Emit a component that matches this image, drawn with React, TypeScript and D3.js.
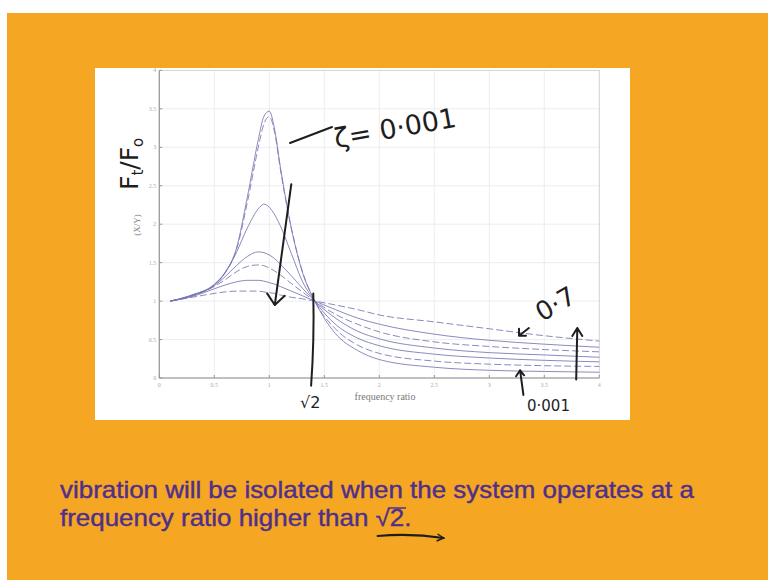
import React, { useLayoutEffect, useRef, useState } from "react";
import * as d3 from "d3";

// frequency ratio samples
const ratios = [0.1, 0.3, 0.5, 0.6, 0.7, 0.8, 0.9, 0.95, 1.0, 1.05, 1.1, 1.2, 1.3, 1.414, 1.6, 1.8, 2.0, 2.5, 3.0, 3.5, 4.0];
// transmissibility curves, highest damping first
const curve1 = [1.0, 1.05, 1.10, 1.12, 1.13, 1.13, 1.13, 1.12, 1.11, 1.10, 1.08, 1.05, 1.03, 1.0, 0.95, 0.89, 0.82, 0.73, 0.64, 0.55, 0.48];
const curve2 = [1.0, 1.06, 1.16, 1.21, 1.25, 1.27, 1.27, 1.26, 1.24, 1.22, 1.19, 1.13, 1.07, 1.0, 0.89, 0.78, 0.70, 0.57, 0.49, 0.44, 0.40];
const curve3 = [1.0, 1.07, 1.19, 1.28, 1.38, 1.45, 1.47, 1.46, 1.43, 1.39, 1.34, 1.23, 1.12, 1.0, 0.83, 0.70, 0.60, 0.47, 0.41, 0.37, 0.34];
const curve4 = [1.0, 1.07, 1.20, 1.32, 1.46, 1.58, 1.64, 1.63, 1.60, 1.55, 1.48, 1.33, 1.17, 1.0, 0.78, 0.61, 0.51, 0.39, 0.33, 0.30, 0.27];
const curve5 = [1.0, 1.08, 1.21, 1.37, 1.63, 1.95, 2.20, 2.26, 2.22, 2.12, 1.98, 1.62, 1.26, 1.0, 0.70, 0.52, 0.42, 0.31, 0.26, 0.23, 0.21];
const curve6 = [1.0, 1.08, 1.21, 1.37, 1.66, 2.28, 3.00, 3.30, 3.40, 3.18, 2.72, 1.95, 1.39, 1.0, 0.64, 0.43, 0.32, 0.22, 0.18, 0.16, 0.15];
const curve7 = [1.0, 1.08, 1.22, 1.38, 1.68, 2.35, 3.10, 3.40, 3.47, 3.22, 2.75, 1.95, 1.38, 1.0, 0.58, 0.36, 0.24, 0.14, 0.10, 0.085, 0.075];
const curves = [curve1, curve2, curve3, curve4, curve5, curve6, curve7];
const dashed = [true, false, true, false, false, true, false];

const xTicks = [0, 0.5, 1, 1.5, 2, 2.5, 3, 3.5, 4];
const yTicks = [0, 0.5, 1, 1.5, 2, 2.5, 3, 3.5, 4];
const xTickLabels = ["0", "0.5", "1", "1.5", "2", "2.5", "3", "3.5", "4"];
const yTickLabels = ["0", "0.5", "1", "1.5", "2", "2.5", "3", "3.5", "4"];

const line1Text = "vibration will be isolated when the system operates at a";
const line2Text = "frequency ratio higher than ";

export default function App() {
  const W = 768, H = 580;
  const x = d3.scaleLinear().domain([0, 4]).range([159.3, 599.3]);
  const y = d3.scaleLinear().domain([0, 4]).range([378, 70.4]);
  const line = d3
    .line<number>()
    .x((_, i) => x(ratios[i]))
    .y((d) => y(d))
    .curve(d3.curveMonotoneX);

  const t1 = useRef<SVGTextElement>(null);
  const t2 = useRef<SVGTextElement>(null);
  const [w1, setW1] = useState(634);
  const [w2, setW2] = useState(300);
  useLayoutEffect(() => {
    if (t1.current) setW1(t1.current.getComputedTextLength());
    if (t2.current) setW2(t2.current.getComputedTextLength());
  }, []);
  const k = 634 / w1;
  const sx = w2; // local (unscaled) coords inside group

  const hand = "#1e1e1e";
  const handFont = "'DejaVu Sans', sans-serif";
  const purple = "#4f2f8c";
  const sans = "'Liberation Sans', Arial, sans-serif";

  return (
    <svg width={W} height={H} style={{ position: "absolute", left: 0, top: 0 }}>
      <rect x={0} y={0} width={W} height={H} fill="#ffffff" />
      <rect x={7} y={13} width={W - 7} height={H - 13} fill="#F5A623" />
      <rect x={95} y={68} width={535} height={352} fill="#ffffff" />

      {/* grid */}
      {xTicks.map((t, i) => (
        <line key={"gx" + i} x1={x(t)} x2={x(t)} y1={y(0)} y2={y(4)} stroke="#e8e8e8" strokeWidth={0.8} />
      ))}
      {yTicks.map((t, i) => (
        <line key={"gy" + i} x1={x(0)} x2={x(4)} y1={y(t)} y2={y(t)} stroke="#e8e8e8" strokeWidth={0.8} />
      ))}
      {/* box */}
      <rect x={x(0)} y={y(4)} width={x(4) - x(0)} height={y(0) - y(4)} fill="none" stroke="#d0d0d0" strokeWidth={0.8} />
      <line x1={x(0)} x2={x(4)} y1={y(0)} y2={y(0)} stroke="#999" strokeWidth={1.2} />
      <line x1={x(0)} x2={x(0)} y1={y(0)} y2={y(4)} stroke="#999" strokeWidth={1.2} />
      {xTicks.map((t, i) => (
        <g key={"tx" + i}>
          <line x1={x(t)} x2={x(t)} y1={y(0)} y2={y(0) - 3} stroke="#999" />
          <text x={x(t)} y={y(0) + 9} fontSize={6} fill="#aaa" textAnchor="middle" fontFamily="'Liberation Serif', serif">
            {xTickLabels[i]}
          </text>
        </g>
      ))}
      {yTicks.map((t, i) => (
        <g key={"ty" + i}>
          <line x1={x(0)} x2={x(0) + 3} y1={y(t)} y2={y(t)} stroke="#999" />
          <text x={x(0) - 3} y={y(t) + 2} fontSize={6} fill="#aaa" textAnchor="end" fontFamily="'Liberation Serif', serif">
            {yTickLabels[i]}
          </text>
        </g>
      ))}

      {/* curves */}
      {curves.map((c, i) => (
        <path
          key={"c" + i}
          d={line(c) || ""}
          fill="none"
          stroke="#7676b4"
          strokeOpacity={0.85}
          strokeWidth={1}
          strokeDasharray={dashed[i] ? "7,3" : undefined}
        />
      ))}

      {/* axis labels */}
      <text x={385} y={400} fontSize={10} fill="#777" fontFamily="'Liberation Serif', serif" textAnchor="middle">
        frequency ratio
      </text>
      <text
        transform={`translate(140,225) rotate(-90)`}
        fontSize={9}
        fill="#888"
        fontFamily="'Liberation Serif', serif"
        textAnchor="middle"
      >
        (X/Y)
      </text>

      {/* handwritten annotations */}
      <text transform="translate(138,190) rotate(-90)" fontSize={25} fill={hand} fontFamily={handFont}>
        F<tspan fontSize={15} dy={5}>t</tspan>
        <tspan dy={-5}>/F</tspan>
        <tspan fontSize={15} dy={5}>o</tspan>
      </text>
      <line x1={290} y1={143} x2={332} y2={127} stroke={hand} strokeWidth={2} strokeLinecap="round" />
      <text transform="translate(336,148) rotate(-10)" fontSize={27} fill={hand} fontFamily={handFont}>
        ζ= 0·001
      </text>
      {/* down arrow */}
      <path
        d={`M${x(1.2)},${y(2.52)} Q${x(1.12)},${y(1.7)} ${x(1.05)},${y(0.95)}`}
        fill="none"
        stroke={hand}
        strokeWidth={2}
        strokeLinecap="round"
      />
      <path
        d={`M${x(0.98)},${y(1.1)} L${x(1.05)},${y(0.95)} L${x(1.14)},${y(1.07)}`}
        fill="none"
        stroke={hand}
        strokeWidth={2}
        strokeLinecap="round"
        strokeLinejoin="round"
      />
      {/* sqrt2 marker */}
      <path
        d={`M${x(1.4)},${y(1.1)} Q${x(1.41)},${y(0.5)} ${x(1.38)},${y(-0.1)}`}
        fill="none"
        stroke={hand}
        strokeWidth={2}
        strokeLinecap="round"
      />
      <text x={300} y={408} fontSize={16} fill={hand} fontFamily={handFont}>
        √2
      </text>
      {/* 0.7 */}
      <text transform="translate(542,322) rotate(-30)" fontSize={26} fill={hand} fontFamily={handFont}>
        0·7
      </text>
      <path
        d={`M${x(3.36)},${y(0.65)} L${x(3.27)},${y(0.55)} M${x(3.27)},${y(0.55)} l0,-7 M${x(3.27)},${y(0.55)} l7,0`}
        fill="none"
        stroke={hand}
        strokeWidth={2}
        strokeLinecap="round"
      />
      {/* up arrow right */}
      <path
        d={`M${x(3.79)},${y(-0.02)} L${x(3.8)},${y(0.65)} M${x(3.8)},${y(0.65)} l-5,8 M${x(3.8)},${y(0.65)} l5,8`}
        fill="none"
        stroke={hand}
        strokeWidth={2}
        strokeLinecap="round"
      />
      {/* 0.001 bottom */}
      <path
        d={`M${x(3.31)},${y(-0.22)} L${x(3.28)},${y(0.1)} M${x(3.28)},${y(0.1)} l-4,6 M${x(3.28)},${y(0.1)} l4,5`}
        fill="none"
        stroke={hand}
        strokeWidth={2}
        strokeLinecap="round"
      />
      <text x={527} y={411} fontSize={15} fill={hand} fontFamily={handFont}>
        0·001
      </text>

      {/* slide text */}
      <g transform={`translate(60,0) scale(${k},1)`}>
        <text ref={t1} x={0} y={498} fontSize={23} fill={purple} stroke={purple} strokeWidth={0.4} fontFamily={sans}>
          {line1Text}
        </text>
        <text ref={t2} x={0} y={526} fontSize={23} fill={purple} stroke={purple} strokeWidth={0.4} fontFamily={sans} xmlSpace="preserve">
          {line2Text}
        </text>
        <text x={sx} y={526} fontSize={23} fill={purple} stroke={purple} strokeWidth={0.4} fontFamily={sans}>
          √2.
        </text>
        <line x1={sx + 12} x2={sx + 27} y1={508} y2={508} stroke={purple} strokeWidth={1.5} />
      </g>
      <path
        d={`M${60 + sx * k + 2},${536} Q${60 + sx * k + 35},${533} ${60 + sx * k + 68},${538}`}
        fill="none"
        stroke={hand}
        strokeWidth={2}
        strokeLinecap="round"
      />
      <path
        d={`M${60 + sx * k + 62},${534} L${60 + sx * k + 68},${538} L${60 + sx * k + 61},${541}`}
        fill="none"
        stroke={hand}
        strokeWidth={1.5}
      />
    </svg>
  );
}
